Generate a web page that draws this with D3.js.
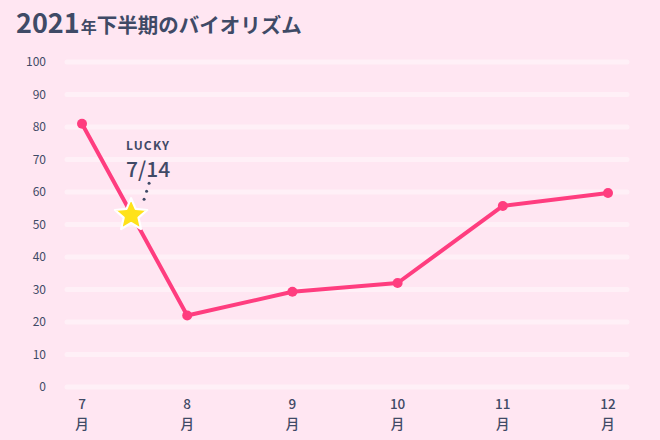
<!DOCTYPE html>
<html><head><meta charset="utf-8">
<script src="https://cdn.jsdelivr.net/npm/d3@7"></script>
<style>
html,body{margin:0;padding:0;background:#ffe6f2;}
svg{display:block;font-family:"Noto Sans CJK JP","Noto Sans",sans-serif;}
</style></head><body>
<svg id="c" width="660" height="440"></svg>
<script>
const months = ["7","8","9","10","11","12"];
const values = [81, 22, 29.3, 32, 55.7, 59.7];
const yTicks = [0,10,20,30,40,50,60,70,80,90,100];
const lucky = {label:"LUCKY", date:"7/14", fromIndex:0, frac:14/30};

const W=660,H=440;
const svg=d3.select("#c");
svg.append("rect").attr("width",W).attr("height",H).attr("fill","#ffe6f2");

const x=d3.scalePoint().domain(months).range([82,608]);
const y=d3.scaleLinear().domain([0,100]).range([387,62]);
const ink="#3f4a66";

// title
const t=svg.append("text").attr("x",16).attr("y",33).attr("fill",ink).attr("font-weight",700);
t.append("tspan").attr("font-size",27).text("2021");
t.append("tspan").attr("font-size",16).attr("dx",1).text("年");
t.append("tspan").attr("font-size",20.5).text("下半期のバイオリズム");

// grid
svg.append("g").selectAll("line").data(yTicks).join("line")
  .attr("x1",67).attr("x2",627).attr("y1",d=>y(d)).attr("y2",d=>y(d))
  .attr("stroke","#fff").attr("stroke-opacity",0.42).attr("stroke-width",5).attr("stroke-linecap","round");

// y axis labels
const yAxis=d3.axisLeft(y).tickValues(yTicks).tickSize(0).tickPadding(0);
const yg=svg.append("g").attr("transform","translate(46,0)").call(yAxis);
yg.select(".domain").remove();
yg.selectAll("text").attr("font-size",12).attr("fill",ink).attr("font-family","'Noto Sans CJK JP','Noto Sans',sans-serif");

// x axis labels
const xg=svg.append("g").selectAll("g").data(months).join("g").attr("transform",d=>`translate(${x(d)},0)`);
xg.append("text").attr("y",409).attr("text-anchor","middle").attr("font-size",13.5).attr("font-weight",500).attr("fill",ink).text(d=>d);
xg.append("text").attr("y",429).attr("text-anchor","middle").attr("font-size",13.5).attr("font-weight",500).attr("fill",ink).text("月");

// line
const line=d3.line().x((d,i)=>x(months[i])).y(d=>y(d));
svg.append("path").datum(values).attr("d",line).attr("fill","none").attr("stroke","#ff3d7f").attr("stroke-width",4).attr("stroke-linejoin","round");
svg.append("g").selectAll("circle").data(values).join("circle")
  .attr("cx",(d,i)=>x(months[i])).attr("cy",d=>y(d)).attr("r",5).attr("fill","#ff3d7f");

// lucky star
const i0=lucky.fromIndex;
const sx=x(months[i0])+(x(months[i0+1])-x(months[i0]))*lucky.frac;
const sy=y(values[i0])+(y(values[i0+1])-y(values[i0]))*lucky.frac;
const pts=[];
for(let k=0;k<10;k++){const r=k%2?7.8:17;const a=-Math.PI/2+k*Math.PI/5;pts.push([sx+r*Math.cos(a),sy+2+r*Math.sin(a)]);}
svg.append("polygon").attr("points",pts.map(p=>p.join(",")).join(" "))
  .attr("fill","#ffe21a").attr("stroke","#fff").attr("stroke-width",2.2).attr("stroke-linejoin","round");

// dots
svg.append("g").selectAll("circle").data([0,1,2]).join("circle")
  .attr("cx",d=>sx+18-d*2.5).attr("cy",d=>sy-30+d*8).attr("r",1.5).attr("fill",ink);

svg.append("text").attr("x",sx+17).attr("y",150).attr("text-anchor","middle").attr("font-size",12).attr("font-weight",700).attr("letter-spacing",1.2).attr("fill",ink).text(lucky.label);
svg.append("text").attr("x",sx+17).attr("y",177).attr("text-anchor","middle").attr("font-size",21).attr("font-weight",500).attr("fill",ink).text(lucky.date);
</script>
</body></html>
